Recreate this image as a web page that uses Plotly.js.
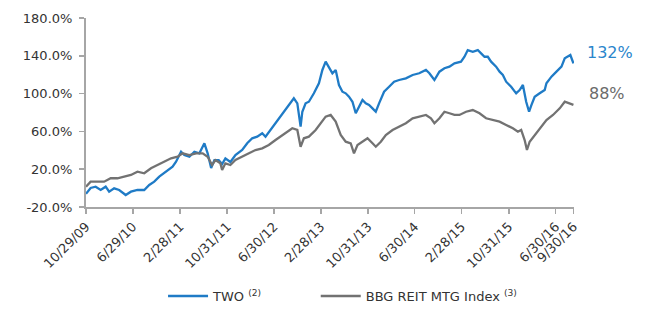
<!DOCTYPE html>
<html><head><meta charset="utf-8">
<script src="https://cdn.plot.ly/plotly-3.0.1.min.js"></script>
<style>body{margin:0;background:#fff}#chart{width:647px;height:310px}</style>
</head><body><div id="chart"></div>
<script>
const twoDates = ['2009-10-29','2009-11-22','2009-12-18','2010-01-13','2010-02-08','2010-02-26','2010-03-24','2010-04-19','2010-05-23','2010-06-19','2010-07-23','2010-08-27','2010-09-22','2010-10-18','2010-11-13','2010-12-18','2011-01-21','2011-02-08','2011-03-06','2011-03-23','2011-04-18','2011-05-14','2011-06-09','2011-07-05','2011-07-22','2011-08-09','2011-08-26','2011-09-17','2011-10-05','2011-10-22','2011-11-17','2011-12-13','2012-01-17','2012-02-12','2012-03-09','2012-04-04','2012-04-30','2012-05-17','2012-06-12','2012-07-08','2012-08-03','2012-08-29','2012-09-24','2012-10-11','2012-10-29','2012-11-15','2012-11-24','2012-12-11','2012-12-28','2013-01-23','2013-02-18','2013-03-08','2013-03-25','2013-04-11','2013-04-29','2013-05-16','2013-06-02','2013-06-20','2013-07-07','2013-07-24','2013-08-11','2013-08-28','2013-09-14','2013-10-02','2013-10-19','2013-11-05','2013-11-23','2013-12-10','2013-12-27','2014-01-22','2014-02-17','2014-03-15','2014-04-10','2014-05-15','2014-06-19','2014-07-23','2014-08-27','2014-09-14','2014-10-10','2014-11-05','2014-12-01','2014-12-27','2015-01-22','2015-02-25','2015-03-15','2015-04-01','2015-04-27','2015-05-23','2015-06-09','2015-06-27','2015-07-14','2015-07-31','2015-08-26','2015-09-13','2015-09-30','2015-10-17','2015-11-12','2015-12-08','2015-12-26','2016-01-12','2016-01-29','2016-02-13','2016-02-25','2016-03-13','2016-04-08','2016-05-04','2016-05-13','2016-06-08','2016-07-04','2016-07-30','2016-08-16','2016-09-03','2016-09-14','2016-09-30'];
const twoValues = [-6,0.1,1.5,-2.0,1.5,-3.8,-0.3,-2.0,-7.3,-3.8,-2.0,-2.0,3.3,6.8,12.1,17.4,22.7,27.9,38.5,35.0,33.2,38.5,36.8,47.4,36.8,21.3,29.7,29.7,25.5,31.5,27.6,35.0,40.3,47.4,52.7,54.4,58.0,54.4,61.5,68.6,75.6,82.6,89.7,95.0,89.7,65.0,80.8,89.7,91.4,100.3,110.9,125.0,133.8,128.5,121.5,125.0,109.1,102.0,100.3,96.7,91.4,79.2,86.1,93.2,89.7,87.9,84.4,80.8,89.7,102.0,107.3,112.6,114.4,116.2,119.7,121.5,125.0,121.5,114.4,123.2,126.8,128.5,132.1,133.8,139.0,146.1,144.3,146.1,142.6,139.0,139.0,133.8,128.5,123.2,119.7,112.6,107.3,100.3,103.8,109.1,91.4,80.8,87.9,96.7,100.3,103.8,110.9,117.9,123.2,128.5,137.4,139.0,140.8,132];
const bbgDates = ['2009-10-29','2009-11-22','2009-12-27','2010-01-31','2010-03-06','2010-04-10','2010-05-15','2010-06-19','2010-07-23','2010-08-27','2010-10-01','2010-11-04','2010-12-09','2011-01-13','2011-02-16','2011-03-14','2011-04-18','2011-05-23','2011-06-26','2011-07-22','2011-08-14','2011-08-31','2011-09-26','2011-10-05','2011-10-22','2011-11-17','2011-12-13','2012-01-17','2012-02-20','2012-03-26','2012-04-30','2012-06-03','2012-07-08','2012-08-03','2012-09-07','2012-10-03','2012-10-29','2012-11-15','2012-12-02','2012-12-28','2013-02-01','2013-02-27','2013-03-25','2013-04-20','2013-05-16','2013-06-11','2013-07-07','2013-08-02','2013-08-19','2013-09-06','2013-10-02','2013-10-28','2013-11-23','2013-12-10','2014-01-05','2014-01-31','2014-03-07','2014-04-10','2014-05-15','2014-06-19','2014-07-23','2014-08-27','2014-09-22','2014-10-10','2014-11-05','2014-12-01','2014-12-27','2015-01-22','2015-02-17','2015-03-23','2015-04-27','2015-06-01','2015-07-05','2015-08-09','2015-09-13','2015-10-17','2015-11-21','2015-12-17','2016-01-03','2016-01-21','2016-02-02','2016-02-16','2016-03-13','2016-04-08','2016-05-13','2016-06-16','2016-07-21','2016-08-16','2016-09-11','2016-09-30'];
const bbgValues = [1.5,6.8,6.8,6.8,10.4,10.4,12.1,13.9,17.4,15.7,21.0,24.4,27.9,31.5,33.2,36.8,35.0,36.8,36.8,33.2,24.4,29.7,26.2,19.2,26.2,24.4,29.7,33.2,36.8,40.3,42.1,45.6,50.9,54.4,59.7,63.3,61.5,43.8,52.7,54.4,61.5,68.6,75.6,77.4,70.3,56.2,49.1,47.4,36.8,45.6,49.1,52.7,47.4,43.8,49.1,56.2,61.5,65.0,68.6,73.9,75.6,77.4,73.9,68.6,73.9,80.8,79.2,77.4,77.4,80.8,82.6,79.2,73.9,72.1,70.3,66.8,63.3,59.7,61.5,50.9,40.3,49.1,56.2,63.3,72.1,77.4,84.4,91.4,89.7,88];
const tickDates = ['2009-10-29','2010-06-29','2011-02-28','2011-10-31','2012-06-30','2013-02-28','2013-10-31','2014-06-30','2015-02-28','2015-10-31','2016-06-30','2016-09-30'];
const tickLabels = ['10/29/09','6/29/10','2/28/11','10/31/11','6/30/12','2/28/13','10/31/13','6/30/14','2/28/15','10/31/15','6/30/16','9/30/16'];
const yTickValues = [-20, 20, 60, 100, 140, 180];
const yTickLabels = ['-20.0%', '20.0%', '60.0%', '100.0%', '140.0%', '180.0%'];
const seriesNames = ['TWO <sup>(2)</sup>', 'BBG REIT MTG Index <sup>(3)</sup>'];
const endLabels = ['132%', '88%'];
const blue = '#1f7bc6', gray = '#727272';
const font = 'DejaVu Sans, Arial, sans-serif';

const traces = [
  {x: twoDates, y: twoValues, name: seriesNames[0], type: 'scatter', mode: 'lines', legend: 'legend', line: {color: blue, width: 2.3}},
  {x: bbgDates, y: bbgValues, name: seriesNames[1], type: 'scatter', mode: 'lines', legend: 'legend2', line: {color: gray, width: 2.3}}
];
const legendBase = {orientation: 'h', xref: 'container', yref: 'container', xanchor: 'left', y: 0.045, yanchor: 'middle',
  itemwidth: 40, bgcolor: 'rgba(0,0,0,0)', font: {family: font, size: 13, color: '#333'}};
const layout = {
  width: 647, height: 310,
  margin: {l: 86, r: 73, t: 18, b: 103, autoexpand: false},
  paper_bgcolor: '#fff', plot_bgcolor: '#fff',
  font: {family: font, color: '#333', size: 13},
  showlegend: true,
  legend: Object.assign({}, legendBase, {x: 0.252}),
  legend2: Object.assign({}, legendBase, {x: 0.488}),
  xaxis: {type: 'date', range: ['2009-10-29', '2016-10-03'], tickmode: 'array', tickvals: tickDates, ticktext: tickLabels,
    tickangle: -45, showgrid: false, zeroline: false, showline: true, linecolor: '#a6a6a6', linewidth: 2,
    ticks: 'outside', ticklen: 5, tickcolor: '#a6a6a6', tickwidth: 1.5, tickfont: {family: font, size: 13, color: '#333'}},
  yaxis: {range: [-20, 180], tickmode: 'array', tickvals: yTickValues, ticktext: yTickLabels,
    showgrid: false, zeroline: false, showline: true, linecolor: '#a6a6a6', linewidth: 2,
    ticks: 'outside', ticklen: 5, tickcolor: '#a6a6a6', tickwidth: 1.5, ticklabelstandoff: 4,
    tickfont: {family: font, size: 13, color: '#333'}},
  annotations: [
    {xref: 'paper', yref: 'y', x: 1, y: twoValues[twoValues.length - 1], xanchor: 'left', yanchor: 'middle',
      xshift: 11, yshift: 11, text: endLabels[0], showarrow: false, font: {family: font, size: 16, color: '#2a86cc'}},
    {xref: 'paper', yref: 'y', x: 1, y: bbgValues[bbgValues.length - 1], xanchor: 'left', yanchor: 'middle',
      xshift: 13, yshift: 11, text: endLabels[1], showarrow: false, font: {family: font, size: 16, color: '#6b6b6b'}}
  ]
};
Plotly.newPlot('chart', traces, layout, {displayModeBar: false, staticPlot: true});
</script></body></html>
